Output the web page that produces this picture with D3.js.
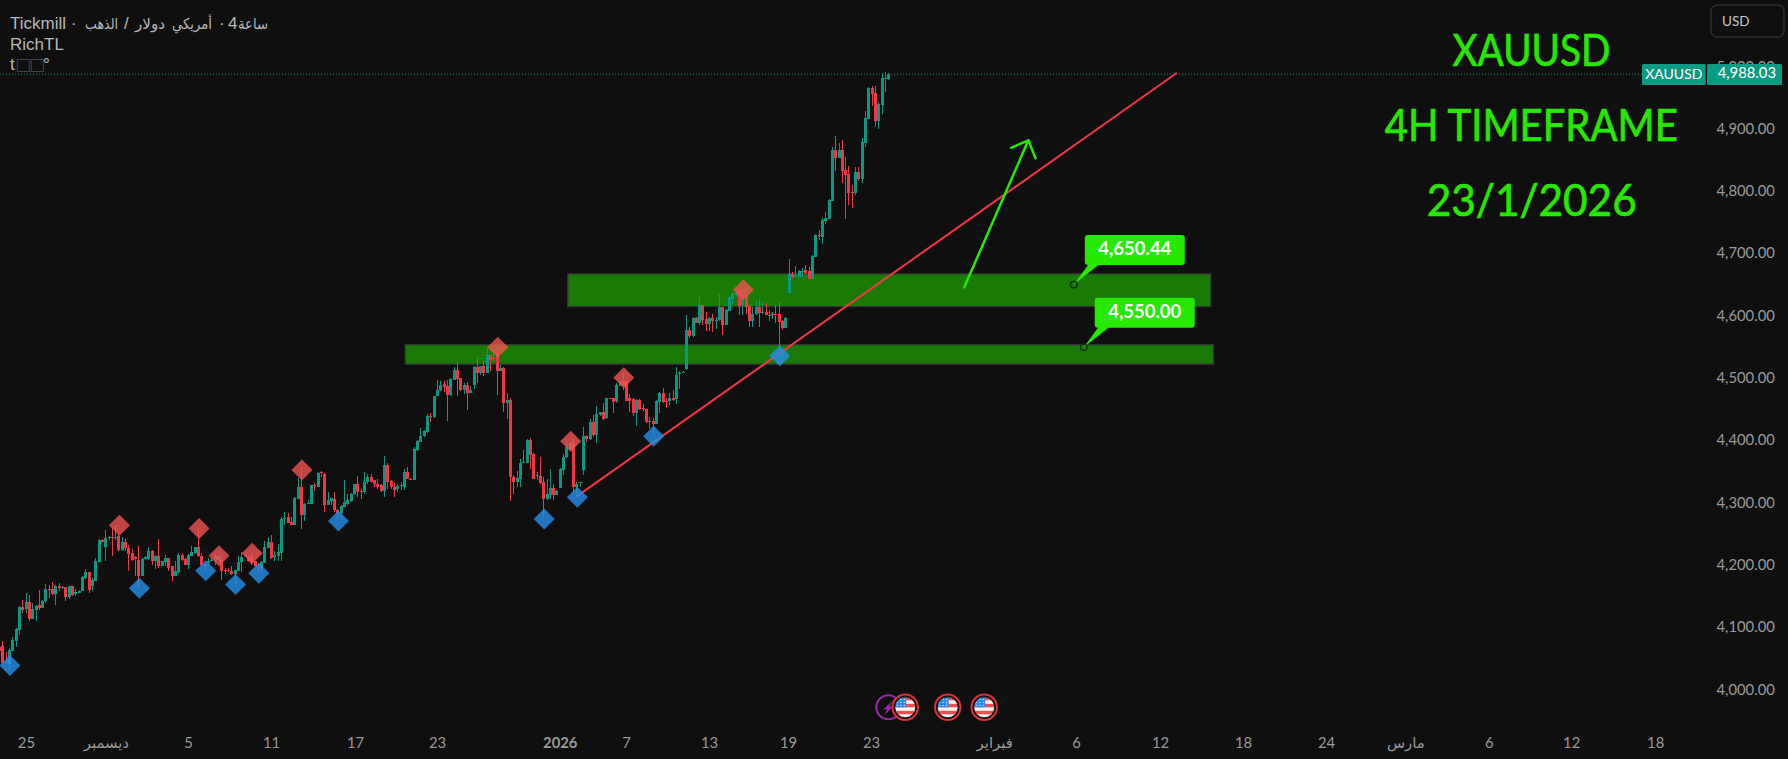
<!DOCTYPE html>
<html><head><meta charset="utf-8">
<script src="https://cdn.jsdelivr.net/npm/d3@7/dist/d3.min.js"></script>
<style>html,body{margin:0;padding:0;background:#0f0f0f;overflow:hidden}svg{display:block}</style>
</head><body><svg id="c" width="1788" height="759"></svg>
<script>
const opens=[4068,4070,4045,4042,4063,4079,4096,4133,4129,4141,4114,4128,4136,4132,4142,4162,4162,4154,4166,4164,4165,4149,4167,4153,4156,4159,4179,4189,4167,4175,4205,4240,4230,4243,4245,4244,4247,4225,4237,4228,4220,4213,4209,4183,4210,4210,4223,4206,4214,4199,4205,4212,4198,4183,4189,4217,4210,4200,4215,4219,4229,4215,4202,4204,4207,4209,4209,4209,4193,4193,4191,4186,4191,4205,4216,4213,4213,4206,4198,4196,4204,4228,4237,4213,4215,4219,4274,4277,4269,4265,4306,4326,4281,4299,4299,4329,4326,4349,4347,4297,4303,4307,4289,
4283,4294,4299,4303,4314,4330,4319,4317,4333,4342,4336,4331,4328,4319,4361,4335,4326,4322,4327,4326,4350,4339,4337,4385,4398,4407,4414,4440,4438,4471,4481,4491,4488,4473,4497,4513,4500,4481,4490,4476,4490,4518,4508,4520,4508,4537,4532,4543,4512,4517,4460,4465,4342,4334,4338,4365,4364,4401,4379,4343,4343,4333,4306,4313,4324,4312,4324,4353,4373,4385,4396,4325,4332,4353,4407,4402,4430,4409,4441,4446,4436,4468,4468,4463,4488,4495,4495,4468,4466,4444,4465,4452,4450,4430,4431,4427,4462,4476,4463,4463,4468,4466,
4508,4509,4515,4578,4568,4597,4588,4617,4595,4587,4597,4593,4593,4615,4585,4608,4628,4634,4641,4617,4636,4616,4592,4603,4615,4605,4606,4601,4602,4603,4603,4592,4581,
4637,4668,4663,4663,4672,4674,4672,4659,4695,4730,4727,4753,4756,4785,4867,4854,4867,4834,4828,4799,4797,4831,4820,4878,4916,4966,4958,4913,4939,4982,4981];
const highs=[4072,4079,4060,4067,4085,4099,4134,4144,4156,4152,4139,4136,4160,4144,4170,4168,4173,4168,4171,4167,4165,4167,4167,4161,4160,4183,4194,4189,4179,4211,4242,4242,4257,4247,4261,4264,4254,4245,4242,4233,4226,4214,4231,4211,4214,4229,4225,4217,4242,4207,4217,4212,4199,4207,4219,4219,4211,4218,4231,4230,4259,4219,4202,4211,4211,4219,4215,4217,4196,4195,4199,4193,4214,4221,4219,4214,4219,4207,4202,4206,4239,4245,4249,4222,4234,4278,4286,4283,4277,4309,4340,4356,4300,4305,4329,4332,4350,4352,4348,4317,4308,4318,4291,
4297,4337,4315,4316,4331,4343,4323,4350,4346,4346,4337,4338,4330,4375,4364,4336,4333,4330,4334,4354,4358,4340,4389,4401,4420,4417,4443,4444,4472,4498,4495,4495,4497,4501,4518,4526,4501,4493,4494,4488,4519,4533,4520,4528,4551,4537,4540,4550,4521,4518,4476,4468,4345,4351,4370,4385,4402,4404,4380,4350,4374,4342,4338,4354,4331,4320,4356,4378,4398,4398,4402,4333,4334,4422,4409,4435,4441,4456,4446,4460,4469,4469,4468,4492,4497,4508,4495,4474,4468,4466,4466,4459,4451,4438,4436,4465,4478,4484,4468,4477,4481,4518,
4512,4511,4602,4583,4598,4598,4631,4618,4607,4598,4603,4598,4635,4615,4611,4631,4639,4643,4642,4645,4636,4618,4615,4624,4626,4622,4621,4610,4607,4618,4622,4594,4598,
4692,4671,4680,4674,4677,4682,4678,4698,4731,4738,4758,4767,4787,4871,4889,4878,4883,4855,4841,4810,4839,4839,4886,4929,4968,4969,4969,4944,4990,4992,4990];
const lows=[4059,4042,4042,4032,4063,4069,4088,4124,4123,4111,4114,4111,4128,4131,4140,4148,4152,4136,4159,4162,4143,4145,4150,4150,4155,4158,4178,4156,4159,4174,4205,4237,4206,4241,4215,4241,4223,4223,4222,4191,4207,4182,4164,4183,4209,4209,4200,4194,4195,4198,4198,4190,4175,4183,4186,4207,4200,4194,4214,4218,4213,4199,4192,4199,4206,4200,4207,4176,4186,4189,4184,4170,4190,4189,4213,4205,4201,4197,4188,4189,4203,4227,4210,4206,4207,4206,4265,4267,4264,4265,4306,4258,4271,4298,4298,4319,4326,4342,4286,4296,4296,4286,4273,
4275,4293,4297,4302,4313,4310,4307,4315,4331,4333,4325,4322,4318,4310,4323,4323,4310,4318,4321,4321,4338,4337,4337,4384,4398,4406,4413,4430,4437,4471,4480,4478,4432,4471,4497,4471,4479,4475,4449,4476,4483,4493,4506,4504,4508,4511,4527,4473,4511,4446,4435,4303,4315,4325,4325,4364,4364,4354,4338,4337,4331,4277,4304,4307,4305,4312,4324,4345,4372,4384,4315,4315,4326,4345,4398,4401,4405,4396,4440,4433,4435,4466,4444,4461,4487,4482,4463,4446,4440,4424,4449,4448,4429,4419,4409,4426,4444,4460,4453,4457,4464,4459,
4483,4508,4513,4565,4567,4588,4586,4586,4576,4576,4575,4579,4592,4570,4585,4608,4620,4631,4601,4602,4603,4583,4583,4602,4583,4603,4601,4592,4595,4588,4538,4578,4581,
4637,4660,4663,4662,4662,4666,4659,4659,4695,4722,4716,4748,4756,4785,4833,4854,4814,4756,4778,4773,4794,4816,4813,4871,4916,4937,4903,4900,4924,4960,4979];
const closes=[4063,4043,4044,4064,4080,4098,4133,4128,4141,4114,4130,4135,4132,4143,4162,4161,4154,4167,4163,4165,4149,4167,4152,4157,4159,4181,4189,4160,4176,4207,4240,4238,4243,4245,4244,4246,4225,4237,4227,4218,4209,4210,4183,4210,4213,4223,4206,4214,4199,4206,4212,4196,4183,4191,4217,4209,4201,4217,4221,4229,4214,4200,4198,4207,4209,4214,4215,4191,4192,4192,4186,4193,4205,4213,4215,4206,4204,4198,4197,4205,4229,4237,4212,4217,4221,4274,4276,4268,4265,4308,4326,4281,4299,4300,4328,4327,4348,4348,4297,4305,4308,4288,4283,
4295,4301,4305,4315,4331,4317,4318,4333,4341,4334,4331,4326,4319,4361,4334,4325,4321,4327,4328,4349,4339,4338,4387,4399,4408,4415,4440,4439,4472,4482,4490,4486,4473,4499,4513,4499,4481,4490,4476,4481,4518,4509,4520,4508,4537,4529,4531,4512,4517,4461,4465,4341,4333,4340,4364,4366,4401,4377,4339,4344,4332,4306,4314,4324,4313,4319,4354,4374,4389,4396,4326,4331,4333,4407,4403,4430,4409,4443,4446,4434,4468,4467,4462,4489,4496,4487,4464,4464,4444,4465,4451,4451,4430,4432,4427,4464,4476,4462,4462,4468,4465,4506,
4509,4510,4578,4568,4597,4588,4618,4594,4587,4596,4592,4594,4615,4586,4610,4631,4635,4639,4616,4634,4615,4592,4604,4615,4605,4607,4601,4602,4603,4602,4591,4581,4597,
4668,4662,4664,4673,4673,4669,4659,4696,4730,4729,4754,4757,4786,4867,4854,4867,4833,4826,4798,4798,4831,4820,4879,4918,4966,4957,4913,4940,4982,4982,4988.03];

const highBars=[36.3,60.3,66.3,76.3,91.3,150.3,172.3,188.3,224.3];
const highPrices=[4264,4259,4215,4219,4353,4550,4399,4501,4642];
const lowBars=[3.3,42.3,62.3,71.3,78.3,102.3,164.3,174.3,197.3,235.3];
const lowPrices=[4039,4163,4191,4169,4187,4271,4274,4309,4407,4536];

const yTicks=[4000,4100,4200,4300,4400,4500,4600,4700,4800,4900,5000];
const xTickBars=[8.1,32.2,57,82,107.3,132,169,189,214,237.8,262.8,299.9,324.6,349.9,374.9,399.9,423.8,449,473.8,499.1];
const xTickLabels=["25","ديسمبر","5","11","17","23","2026","7","13","19","23","فبراير","6","12","18","24","مارس","6","12","18"];
const lastPrice=4988.03;
const zoneBars=[[171.4,365.2],[122.4,366]];
const zonePrices=[[4667.6,4615],[4554,4522.6]];
const trendBars=[174,354.9];
const trendPrices=[4310,4990];
const arrowBars=[290.9,310.2];
const arrowPrices=[4646,4882];
const arrowHeadBars=[305,312.4];
const arrowHeadPrices=[4870,4853];
const calloutBars=[323.9,326.9];
const calloutPrices=[4650.44,4550.00];
const eventFlagBars=[273.1,285.9,296.9];
const eventBoltBars=[268];
const titles=["XAUUSD","4H TIMEFRAME","23/1/2026"];

const GREEN="#089981",RED="#F23645",LIME="#26E800";
const FONT="Lato,'DejaVu Sans',sans-serif";
const svg=d3.select("#c");
const x=d3.scaleLinear().domain([0,268]).range([-1,888.3]);
const y=d3.scaleLinear().domain([4000,5000]).range([689.8,66.8]);
const bars=d3.range(opens.length);
const px=i=>Math.round(x(i));

// zones
svg.append("g").selectAll("rect").data(zoneBars).join("rect")
  .attr("x",d=>x(d[0])).attr("width",d=>x(d[1])-x(d[0]))
  .attr("y",(d,i)=>y(zonePrices[i][0])).attr("height",(d,i)=>y(zonePrices[i][1])-y(zonePrices[i][0]))
  .attr("fill","#1a7a06").attr("stroke","#333").attr("stroke-width",1.3);

// price line
svg.append("line").attr("x1",0).attr("x2",1642).attr("y1",y(lastPrice)).attr("y2",y(lastPrice))
  .attr("stroke",GREEN).attr("stroke-dasharray","1 2");

// candles
const cg=svg.append("g").attr("shape-rendering","crispEdges");
cg.selectAll("line").data(bars).join("line")
  .attr("x1",i=>px(i)+.5).attr("x2",i=>px(i)+.5)
  .attr("y1",i=>y(highs[i])).attr("y2",i=>y(lows[i]))
  .attr("stroke",i=>closes[i]>=opens[i]?GREEN:RED);
cg.selectAll("rect").data(bars).join("rect")
  .attr("x",i=>px(i)-1).attr("width",3)
  .attr("y",i=>y(Math.max(opens[i],closes[i])))
  .attr("height",i=>Math.max(1,Math.abs(y(opens[i])-y(closes[i]))))
  .attr("fill",i=>closes[i]>=opens[i]?GREEN:RED);

// trendline
svg.append("line").attr("x1",x(trendBars[0])).attr("y1",y(trendPrices[0]))
  .attr("x2",x(trendBars[1])).attr("y2",y(trendPrices[1]))
  .attr("stroke",RED).attr("stroke-width",2);

// diamonds
const diamond=d3.symbol().type(d3.symbolSquare).size(2*10.5*10.5);
const dg=svg.append("g");
dg.selectAll("path.h").data(highBars).join("path").attr("class","h")
  .attr("d",diamond).attr("transform",(d,i)=>`translate(${x(d)},${y(highPrices[i])}) rotate(45)`)
  .attr("fill","#EF5350").attr("opacity",.8);
dg.selectAll("path.l").data(lowBars).join("path").attr("class","l")
  .attr("d",diamond).attr("transform",(d,i)=>`translate(${x(d)},${y(lowPrices[i])}) rotate(45)`)
  .attr("fill","#2390EA").attr("opacity",.8);

// arrow
const tip=[x(arrowBars[1]),y(arrowPrices[1])];
const ag=svg.append("g").attr("stroke",LIME).attr("stroke-width",2.5).attr("fill","none").attr("stroke-linecap","round").attr("stroke-linejoin","round");
ag.append("line").attr("x1",x(arrowBars[0])).attr("y1",y(arrowPrices[0])).attr("x2",tip[0]).attr("y2",tip[1]);
ag.append("path").attr("d",d3.line()([[x(arrowHeadBars[0]),y(arrowHeadPrices[0])],tip,[x(arrowHeadBars[1]),y(arrowHeadPrices[1])]]));

// callouts
const cw=100,ch=30;
calloutBars.forEach((b,i)=>{
  const ax=x(b),ay=y(calloutPrices[i]);
  const bx=ax+11,by=ay-49.5;
  const g=svg.append("g");
  g.append("path").attr("d",d3.line()([[ax,ay],[bx+4,by+ch-1],[bx+15,by+ch-1]])).attr("fill",LIME);
  g.append("rect").attr("x",bx).attr("y",by).attr("width",cw).attr("height",ch).attr("rx",3).attr("fill",LIME);
  g.append("text").attr("x",bx+cw/2).attr("y",by+ch/2+5).attr("text-anchor","middle")
    .attr("fill","#fff").attr("font-family",FONT).attr("font-weight",700).attr("font-size",18.5)
    .text(d3.format(",.2f")(calloutPrices[i]));
  g.append("circle").attr("cx",ax).attr("cy",ay).attr("r",3.3).attr("fill","none").attr("stroke","#0f2a08").attr("stroke-width",1.3);
});

// axes
const yAxis=d3.axisRight(y).tickValues(yTicks).tickFormat(d3.format(",.2f")).tickSize(0).tickPadding(0);
const yg=svg.append("g").attr("transform","translate(1716.5,-0.5)").call(yAxis);
yg.select(".domain").remove();
yg.selectAll("text").attr("fill","#9a9a9a").attr("font-family",FONT).attr("font-size",14.8);

const xAxis=d3.axisBottom(x).tickValues(xTickBars).tickFormat((d,i)=>xTickLabels[i]).tickSize(0).tickPadding(0);
const xg=svg.append("g").attr("transform","translate(0,737)").call(xAxis);
xg.select(".domain").remove();
xg.selectAll("text").attr("fill","#9a9a9a").attr("font-family",FONT).attr("font-size",14.8)
  .attr("font-weight",(d,i)=>xTickLabels[i]==="2026"?700:400);

// last price tags
const tagY=y(lastPrice);
svg.append("rect").attr("x",1642).attr("y",tagY-10.3).attr("width",63.7).attr("height",21).attr("rx",1.5).attr("fill","#0B9A83");
svg.append("rect").attr("x",1707).attr("y",tagY-10.3).attr("width",75).attr("height",21).attr("rx",1.5).attr("fill","#0B9A83");
svg.append("text").attr("x",1673.8).attr("y",tagY+5).attr("text-anchor","middle").attr("fill","#fff").attr("font-family",FONT).attr("font-size",14).text("XAUUSD");
svg.append("text").attr("x",1776).attr("y",tagY+4).attr("text-anchor","end").attr("fill","#fff").attr("font-family",FONT).attr("font-size",14.8).text(d3.format(",.2f")(lastPrice));

// USD button
svg.append("rect").attr("x",1711).attr("y",5).attr("width",73).attr("height",32).attr("rx",6).attr("fill","none").attr("stroke","#2e2e2e").attr("stroke-width",1.5);
svg.append("text").attr("x",1722).attr("y",26).attr("fill","#c8c8c8").attr("font-family",FONT).attr("font-size",13.5).text("USD");

// big titles
const tl=[[1531.5,66,158],[1531.3,141,293],[1531.7,216,210]];
svg.append("g").selectAll("text").data(titles).join("text")
  .attr("x",(d,i)=>tl[i][0]).attr("y",(d,i)=>tl[i][1]).attr("text-anchor","middle")
  .attr("textLength",(d,i)=>tl[i][2]).attr("lengthAdjust","spacingAndGlyphs")
  .attr("fill",LIME).attr("stroke",LIME).attr("stroke-width",.7).attr("font-family",FONT).attr("font-size",44.5).text(d=>d);

// header
const hf="'Liberation Sans','DejaVu Sans',sans-serif";
const headerParts=[["Tickmill ·",10,0],["الذهب",85,33],["/",124,0],["دولار",135,30],["أمريكي",172,40],["·",219,0],["4",228,0],["ساعة",238,30]];
const hg=svg.append("g").attr("fill","#b8b8b8").attr("font-family",hf);
headerParts.forEach(([t,hx,len])=>{
  const e=hg.append("text").attr("x",hx).attr("y",29).attr("font-size",len?15:17).text(t);
  if(len) e.attr("textLength",len).attr("lengthAdjust","spacingAndGlyphs");
});
hg.append("text").attr("x",10).attr("y",50).attr("font-size",17).text("RichTL");
const t3=hg.append("text").attr("y",70).attr("font-size",17);
t3.append("tspan").attr("x",10).text("t");
t3.append("tspan").attr("x","15 29").attr("fill","#444").attr("font-family","'DejaVu Sans'").attr("font-size",17).text("\u25A1\u25A1");
t3.append("tspan").attr("x",43).text("°");

// event icons
const defs=svg.append("defs");
const ey=707.3;
eventBoltBars.forEach(b=>{
  const cx=x(b);
  const g=svg.append("g").attr("transform",`translate(${cx},${ey})`);
  g.append("circle").attr("r",12).attr("fill","#0f0f0f").attr("stroke","#9C27B0").attr("stroke-width",2);
  g.append("path").attr("d","M5 -7 L-5 2 L-1 2 L-4 8 L5 -1 L1 -1 Z").attr("fill","#9C27B0");
});
eventFlagBars.forEach((b,i)=>{
  const cx=x(b);
  const g=svg.append("g").attr("transform",`translate(${cx},${ey})`);
  defs.append("clipPath").attr("id","fc"+i).append("circle").attr("r",10.5);
  g.append("circle").attr("r",12.7).attr("fill","#0f0f0f").attr("stroke","#E0303A").attr("stroke-width",2);
  const f=g.append("g").attr("clip-path",`url(#fc${i})`);
  f.append("rect").attr("x",-11).attr("y",-11).attr("width",22).attr("height",22).attr("fill","#f5f5f5");
  f.selectAll("rect.s").data([-10.5,-3.5,3.5]).join("rect").attr("class","s").attr("x",-11).attr("y",d=>d).attr("width",22).attr("height",3.5).attr("fill","#F0504F");
  f.append("rect").attr("x",-11).attr("y",-11).attr("width",12).attr("height",11).attr("fill","#2B8CEB");
  f.selectAll("circle.d").data(d3.range(9)).join("circle").attr("class","d").attr("cx",d=>-8+(d%3)*3.5).attr("cy",d=>-8+Math.floor(d/3)*3).attr("r",.6).attr("fill","#fff");
  g.append("circle").attr("r",10.5).attr("fill","none").attr("stroke","#111").attr("stroke-width",1);
});
</script></body></html>
